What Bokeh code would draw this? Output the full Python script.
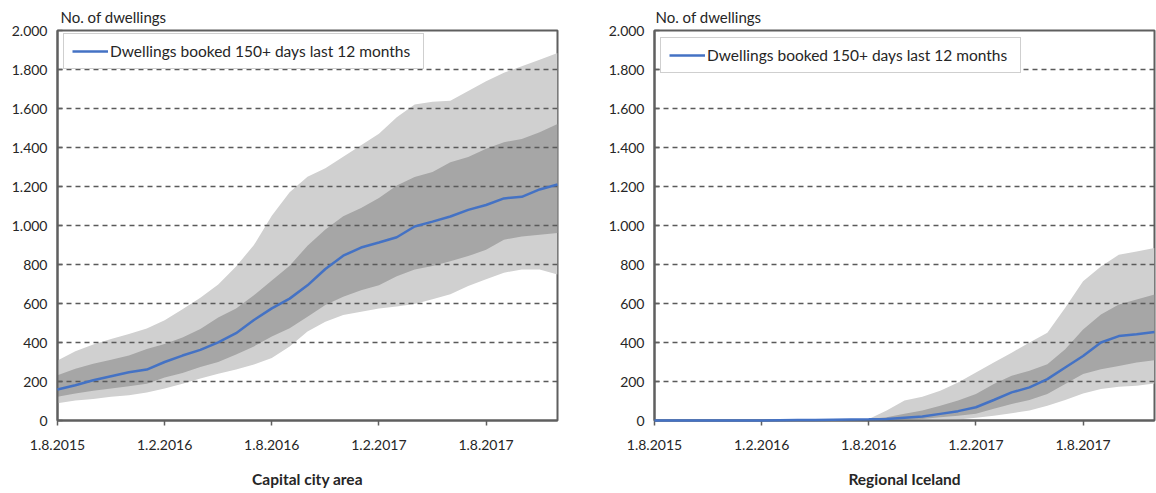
from bokeh.plotting import figure
from bokeh.layouts import row
from bokeh.models import ColumnDataSource, Range1d, FixedTicker, Title
from bokeh.embed import file_html
from bokeh.resources import INLINE

# ---------------- data ----------------
months = ["1.8.2015", "1.9.2015", "1.10.2015", "1.11.2015", "1.12.2015",
          "1.1.2016", "1.2.2016", "1.3.2016", "1.4.2016", "1.5.2016", "1.6.2016", "1.7.2016",
          "1.8.2016", "1.9.2016", "1.10.2016", "1.11.2016", "1.12.2016",
          "1.1.2017", "1.2.2017", "1.3.2017", "1.4.2017", "1.5.2017", "1.6.2017", "1.7.2017",
          "1.8.2017", "1.9.2017", "1.10.2017", "1.11.2017", "1.12.2017"]
x_tick_labels = ["1.8.2015", "1.2.2016", "1.8.2016", "1.2.2017", "1.8.2017"]
y_ticks = [0, 200, 400, 600, 800, 1000, 1200, 1400, 1600, 1800, 2000]
y_tick_labels = ["0", "200", "400", "600", "800", "1.000", "1.200", "1.400", "1.600", "1.800", "2.000"]

series_name = "Dwellings booked 150+ days last 12 months"
y_title = "No. of dwellings"

# Capital city area
cap_mid = [159, 181, 206, 227, 247, 261, 300, 333, 362, 401, 448, 515, 575, 625, 693, 777, 845, 887, 913,
           940, 995, 1020, 1046, 1080, 1105, 1139, 1147, 1185, 1210]
cap_hi1 = [232, 266, 291, 311, 333, 367, 392, 426, 469, 528, 575, 642, 718, 794, 896, 980, 1048, 1090, 1141,
           1205, 1249, 1275, 1325, 1351, 1393, 1427, 1444, 1478, 1520]
cap_lo1 = [122, 139, 152, 164, 176, 189, 220, 244, 274, 300, 338, 380, 431, 473, 532, 592, 634, 668, 693,
           740, 775, 792, 817, 843, 876, 927, 944, 953, 961]
cap_hi2 = [308, 355, 390, 418, 443, 472, 514, 570, 629, 697, 790, 900, 1050, 1170, 1250, 1293, 1352, 1411, 1470,
           1555, 1620, 1635, 1640, 1690, 1740, 1783, 1817, 1850, 1885]
cap_lo2 = [88, 102, 110, 122, 130, 144, 164, 189, 215, 240, 262, 287, 321, 380, 456, 507, 541, 558, 575,
           585, 597, 622, 647, 690, 724, 758, 775, 775, 749]

# Regional Iceland
reg_mid = [0, 0, 0, 0, 0, 0, 0, 1, 2, 3, 4, 5, 6, 8, 14, 20, 34, 48, 68, 105, 144, 170, 212, 272, 331, 400,
           433, 442, 454]
reg_hi1 = [0, 0, 0, 0, 0, 0, 0, 1, 2, 3, 4, 5, 8, 17, 34, 51, 76, 102, 136, 187, 230, 255, 289, 365, 467, 544,
           595, 620, 646]
reg_lo1 = [0, 0, 0, 0, 0, 0, 0, 0, 1, 2, 3, 3, 3, 4, 5, 8, 17, 25, 34, 60, 85, 105, 136, 187, 238, 263,
           280, 297, 309]
reg_hi2 = [0, 0, 0, 0, 0, 0, 0, 1, 2, 3, 4, 5, 8, 51, 102, 122, 153, 195, 246, 297, 348, 400, 450, 578, 714,
           790, 850, 867, 884]
reg_lo2 = [0, 0, 0, 0, 0, 0, 0, 0, 0, 0, 0, 0, 0, 0, 0, 0, 2, 5, 14, 25, 37, 51, 76, 105, 139, 161, 173,
           178, 190]

# ---------------- style ----------------
FONT = "Lato"
TXT = "#262626"
LIGHT = "#d0d0d0"
DARK = "#a6a6a6"
BLUE = "#4472c4"
FRAME = "#5f5f5f"
H = 490
TOP = 30


def panel(mid, hi1, lo1, hi2, lo2, axis_title, width, bl, br, fh, title_offset):
    xs = list(range(len(months)))
    src = ColumnDataSource(dict(x=xs, mid=mid, hi1=hi1, lo1=lo1, hi2=hi2, lo2=lo2))
    ttl = Title(text=y_title, align="left", offset=title_offset, standoff=10,
                text_font=FONT, text_font_size="15px", text_font_style="normal", text_color=TXT)
    p = figure(width=width, height=H, output_backend="svg", toolbar_location=None,
               x_range=Range1d(0, len(months) - 1), y_range=Range1d(0, 2000),
               min_border_left=bl, min_border_right=br, min_border_top=TOP,
               min_border_bottom=H - TOP - fh, title=ttl)
    p.varea(x="x", y1="lo2", y2="hi2", source=src, fill_color=LIGHT, level="underlay")
    p.varea(x="x", y1="lo1", y2="hi1", source=src, fill_color=DARK, level="underlay")
    p.line(x="x", y="mid", source=src, line_color=BLUE, line_width=2.5,
           legend_label=series_name, level="annotation")

    # grid
    p.xgrid.visible = False
    p.ygrid.ticker = FixedTicker(ticks=y_ticks)
    p.ygrid.grid_line_color = "#5a5a5a"
    p.ygrid.grid_line_width = 1.6
    p.ygrid.grid_line_dash = "5 4"
    p.ygrid.level = "glyph"

    # axes
    xt = [months.index(t) for t in x_tick_labels]
    p.xaxis.ticker = FixedTicker(ticks=xt)
    p.xaxis.major_label_overrides = {i: t for i, t in zip(xt, x_tick_labels)}
    p.yaxis.ticker = FixedTicker(ticks=y_ticks)
    p.yaxis.major_label_overrides = {v: t for v, t in zip(y_ticks, y_tick_labels)}
    for ax in (p.xaxis[0], p.yaxis[0]):
        ax.axis_line_color = FRAME
        ax.axis_line_width = 2
        ax.major_tick_line_color = FRAME
        ax.major_tick_line_width = 1.5
        ax.minor_tick_line_color = None
        ax.major_label_text_font = FONT
        ax.major_label_text_font_size = "14px"
        ax.major_label_text_color = TXT
    p.xaxis.major_tick_out = 5
    p.xaxis.major_tick_in = 0
    p.xaxis.major_label_standoff = 14
    p.yaxis.major_tick_out = 0
    p.yaxis.major_tick_in = 5
    p.yaxis.major_label_standoff = 10
    p.xaxis.axis_label = axis_title
    p.xaxis.axis_label_text_font = FONT
    p.xaxis.axis_label_text_font_size = "15.5px"
    p.xaxis.axis_label_text_font_style = "bold"
    p.xaxis.axis_label_text_color = TXT
    p.xaxis.axis_label_standoff = 17

    p.outline_line_color = FRAME
    p.outline_line_width = 2
    p.outline_line_alpha = 1

    lg = p.legend[0]
    lg.location = (6, fh - 10 - 33)
    lg.border_line_color = "#a0a0a0"
    lg.border_line_width = 1
    lg.background_fill_color = "white"
    lg.background_fill_alpha = 1
    lg.padding = 8
    lg.margin = 0
    lg.spacing = 0
    lg.glyph_width = 36
    lg.glyph_height = 16
    lg.label_height = 16
    lg.label_standoff = 2
    lg.label_width = 305
    lg.label_text_font = FONT
    lg.label_text_font_size = "15.5px"
    lg.label_text_color = TXT
    return p


p1 = panel(cap_mid, cap_hi1, cap_lo1, cap_hi2, cap_lo2, "Capital city area",
           width=602, bl=57, br=45, fh=394, title_offset=3)
p2 = panel(reg_mid, reg_hi1, reg_lo1, reg_hi2, reg_lo2, "Regional Iceland",
           width=554, bl=52, br=2, fh=390, title_offset=1)

layout = row(p1, p2)
open("out.html", "w").write(file_html(layout, INLINE))
